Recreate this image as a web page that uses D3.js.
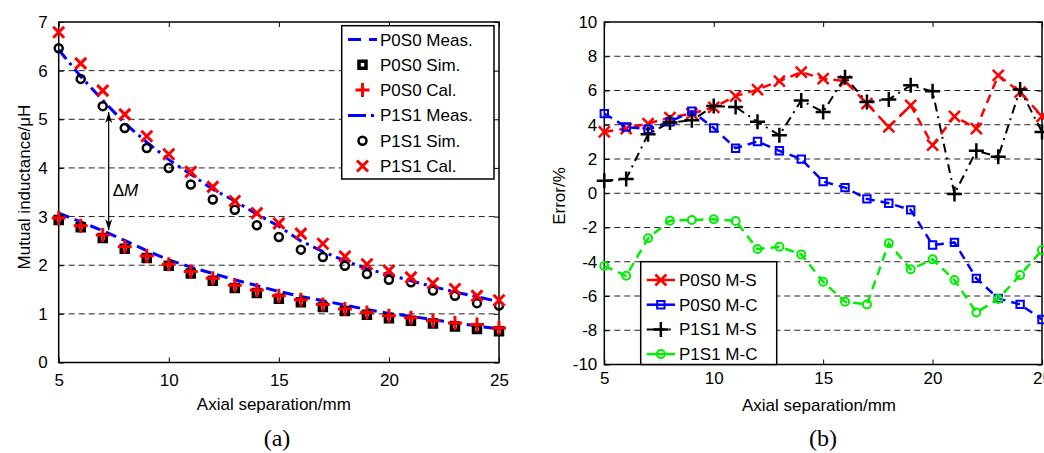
<!DOCTYPE html>
<html>
<head>
<meta charset="utf-8">
<script src="https://cdn.jsdelivr.net/npm/d3@7"></script>
<style>
  body { margin: 0; background: #fff; }
  text { font-family: Arial, "Liberation Sans", sans-serif; fill: #000; }
</style>
</head>
<body>
<svg id="chart" width="1044" height="453"></svg>
<script>
// axial separation, mm
const separation = [5, 6, 7, 8, 9, 10, 11, 12, 13, 14, 15, 16, 17, 18, 19, 20, 21, 22, 23, 24, 25];

// (a) mutual inductance, uH
const p0s0Meas = [3.07, 2.89, 2.71, 2.51, 2.30, 2.11, 1.96, 1.83, 1.70, 1.58, 1.46, 1.36, 1.27, 1.18, 1.09, 1.01, 0.95, 0.88, 0.82, 0.75, 0.69];
const p0s0Sim  = [2.93, 2.78, 2.56, 2.34, 2.15, 1.99, 1.83, 1.68, 1.53, 1.43, 1.31, 1.24, 1.14, 1.06, 0.98, 0.91, 0.86, 0.80, 0.74, 0.69, 0.64];
const p0s0Cal  = [2.97, 2.81, 2.62, 2.38, 2.19, 2.02, 1.87, 1.73, 1.59, 1.49, 1.37, 1.29, 1.19, 1.10, 1.03, 0.96, 0.92, 0.86, 0.81, 0.78, 0.71];
const p1s1Meas = [6.43, 5.88, 5.39, 4.92, 4.53, 4.17, 3.87, 3.56, 3.32, 3.05, 2.80, 2.50, 2.28, 2.09, 1.93, 1.80, 1.68, 1.56, 1.45, 1.35, 1.25];
const p1s1Sim  = [6.46, 5.83, 5.27, 4.82, 4.41, 4.00, 3.66, 3.35, 3.14, 2.82, 2.58, 2.32, 2.17, 1.99, 1.82, 1.70, 1.65, 1.48, 1.37, 1.22, 1.17];
const p1s1Cal  = [6.79, 6.15, 5.59, 5.10, 4.65, 4.28, 3.92, 3.61, 3.32, 3.07, 2.86, 2.65, 2.44, 2.18, 2.02, 1.89, 1.75, 1.63, 1.51, 1.37, 1.28];

// (b) error, %
const errP0S0MS = [3.58, 3.78, 4.07, 4.42, 4.65, 5.02, 5.67, 6.05, 6.55, 7.07, 6.69, 6.55, 5.23, 3.87, 5.13, 2.81, 4.49, 3.78, 6.88, 5.91, 4.49];
const errP0S0MC = [4.65, 3.87, 3.74, 4.17, 4.79, 3.81, 2.63, 3.02, 2.48, 1.99, 0.68, 0.33, -0.33, -0.58, -0.97, -3.02, -2.87, -4.97, -6.14, -6.49, -7.37];
const errP1S1MS = [0.73, 0.83, 3.45, 4.13, 4.26, 5.09, 5.04, 4.17, 3.39, 5.42, 4.75, 6.78, 5.33, 5.48, 6.30, 5.95, -0.04, 2.48, 2.13, 6.06, 3.58];
const errP1S1MC = [-4.25, -4.82, -2.63, -1.60, -1.56, -1.52, -1.62, -3.26, -3.12, -3.57, -5.17, -6.34, -6.49, -2.92, -4.44, -3.86, -5.07, -6.96, -6.18, -4.78, -3.32];

// tick labels
const xTicks = [5, 10, 15, 20, 25];
const yTicksA = [0, 1, 2, 3, 4, 5, 6, 7];
const yTicksB = [-10, -8, -6, -4, -2, 0, 2, 4, 6, 8, 10];

// delta M arrow (data units of panel a)
const deltaM = { x: 7.27, from: 2.72, to: 5.15, labelX: 7.45, labelY: 3.42 };

const RED = "#ff0000", BLUE = "#0000ff", GREEN = "#00ee00", BLACK = "#000";

function markerPath(type, s) {
    if (type === "plus") return `M${-s},0H${s}M0,${-s}V${s}`;
    if (type === "x") return `M${-s},${-s}L${s},${s}M${-s},${s}L${s},${-s}`;
    if (type === "square") return `M${-s},${-s}H${s}V${s}H${-s}Z`;
    if (type === "circle") return `M${s},0A${s},${s} 0 1,1 ${-s},0A${s},${s} 0 1,1 ${s},0Z`;
    return "";
}

function drawFrame(svg, area, scaleX, scaleY, yTicks, grid, opt) {
    const g = svg.append("g");
    const fmt = d => String(d);

    // dashed horizontal grid
    g.selectAll(".grid")
        .data(grid)
        .enter()
        .append("line")
        .attr("x1", area.x0).attr("x2", area.x1)
        .attr("y1", d => scaleY(d)).attr("y2", d => scaleY(d))
        .attr("stroke", "#222")
        .attr("stroke-width", 1)
        .attr("stroke-dasharray", "6,4");

    const bottom = g.append("g")
        .attr("transform", `translate(0, ${area.y1})`)
        .call(d3.axisBottom(scaleX).tickValues(xTicks).tickSizeInner(-5).tickSizeOuter(0).tickPadding(opt.padX).tickFormat(fmt));
    const top = g.append("g")
        .attr("transform", `translate(0, ${area.y0})`)
        .call(d3.axisTop(scaleX).tickValues(xTicks).tickSizeInner(-5).tickSizeOuter(0).tickFormat(""));
    const left = g.append("g")
        .attr("transform", `translate(${area.x0}, 0)`)
        .call(d3.axisLeft(scaleY).tickValues(yTicks).tickSizeInner(-5).tickSizeOuter(0).tickPadding(opt.padY).tickFormat(fmt));
    const right = g.append("g")
        .attr("transform", `translate(${area.x1}, 0)`)
        .call(d3.axisRight(scaleY).tickValues(yTicks).tickSizeInner(-5).tickSizeOuter(0).tickFormat(""));

    [bottom, top, left, right].forEach(a => {
        a.select(".domain").remove();
        a.selectAll("line").attr("stroke", "#000").attr("stroke-width", 1);
        a.selectAll("text").style("font-size", "17px").style("font-family", "Arial, 'Liberation Sans', sans-serif");
    });

    g.append("rect")
        .attr("x", area.x0).attr("y", area.y0)
        .attr("width", area.x1 - area.x0).attr("height", area.y1 - area.y0)
        .attr("fill", "none")
        .attr("stroke", "#000")
        .attr("stroke-width", 1.5);
}

function drawSeries(g, scaleX, scaleY, s) {
    const pts = d3.zip(separation, s.values);
    if (s.dash !== undefined) {
        const line = d3.line().x(d => scaleX(d[0])).y(d => scaleY(d[1]));
        g.append("path")
            .datum(pts)
            .attr("d", line)
            .attr("fill", "none")
            .attr("stroke", s.color)
            .attr("stroke-width", s.lineWidth)
            .attr("stroke-dasharray", s.dash);
    }
    if (s.marker) {
        g.selectAll(null)
            .data(pts)
            .enter()
            .append("path")
            .attr("transform", d => `translate(${scaleX(d[0])}, ${scaleY(d[1])})`)
            .attr("d", markerPath(s.marker, s.size))
            .attr("fill", "none")
            .attr("stroke", s.markerColor || s.color)
            .attr("stroke-width", s.markerWidth);
    }
}

function drawLegend(svg, box, items, opt) {
    const g = svg.append("g");
    g.append("rect")
        .attr("x", box.x).attr("y", box.y)
        .attr("width", box.w).attr("height", box.h)
        .attr("fill", "#fff")
        .attr("stroke", "#000")
        .attr("stroke-width", 1.5);

    items.forEach((s, i) => {
        const cy = opt.y0 + i * opt.step;
        if (s.dash !== undefined) {
            g.append("line")
                .attr("x1", opt.lineX0).attr("x2", opt.lineX1)
                .attr("y1", cy).attr("y2", cy)
                .attr("stroke", s.color)
                .attr("stroke-width", s.lineWidth)
                .attr("stroke-dasharray", s.legendDash);
        }
        if (s.marker) {
            g.append("path")
                .attr("transform", `translate(${(opt.lineX0 + opt.lineX1) / 2}, ${cy})`)
                .attr("d", markerPath(s.marker, s.size))
                .attr("fill", "none")
                .attr("stroke", s.markerColor || s.color)
                .attr("stroke-width", s.markerWidth);
        }
        g.append("text")
            .attr("x", opt.textX)
            .attr("y", cy + 6)
            .style("font-size", "17px")
            .text(s.name);
    });
}

function drawPanelA(svg) {
    const area = { x0: 58.7, x1: 499, y0: 22, y1: 362.5 };
    const scaleX = d3.scaleLinear().domain([5, 25]).range([area.x0, area.x1]);
    const scaleY = d3.scaleLinear().domain([0, 7]).range([area.y1, area.y0]);

    drawFrame(svg, area, scaleX, scaleY, yTicksA, [1, 2, 3, 4, 5, 6], { padX: 11, padY: 11 });

    const series = [
        { name: "P0S0 Meas.", values: p0s0Meas, color: BLUE, lineWidth: 3, dash: "11,6", legendDash: "13,8" },
        { name: "P0S0 Sim.", values: p0s0Sim, color: BLACK, marker: "square", size: 3.5, markerWidth: 3.5 },
        { name: "P0S0 Cal.", values: p0s0Cal, color: RED, marker: "plus", size: 7, markerWidth: 3 },
        { name: "P1S1 Meas.", values: p1s1Meas, color: BLUE, lineWidth: 3, dash: "12,5,3,5", legendDash: "18,5,3,5" },
        { name: "P1S1 Sim.", values: p1s1Sim, color: BLACK, marker: "circle", size: 4, markerWidth: 2.5 },
        { name: "P1S1 Cal.", values: p1s1Cal, color: RED, marker: "x", size: 5.5, markerWidth: 3 }
    ];

    const g = svg.append("g");
    series.forEach(s => drawSeries(g, scaleX, scaleY, s));

    // delta M
    svg.append("defs").append("marker")
        .attr("id", "arrow")
        .attr("viewBox", "-12 -5 14 10")
        .attr("refX", 0).attr("refY", 0)
        .attr("markerWidth", 14).attr("markerHeight", 10)
        .attr("markerUnits", "userSpaceOnUse")
        .attr("orient", "auto-start-reverse")
        .append("path")
        .attr("d", "M0,0L-11,-3.5L-8,0L-11,3.5Z")
        .attr("fill", "#000");

    svg.append("line")
        .attr("x1", scaleX(deltaM.x)).attr("x2", scaleX(deltaM.x))
        .attr("y1", scaleY(deltaM.from)).attr("y2", scaleY(deltaM.to))
        .attr("stroke", "#000")
        .attr("stroke-width", 1.2)
        .attr("marker-start", "url(#arrow)")
        .attr("marker-end", "url(#arrow)");

    const t = svg.append("text")
        .attr("x", scaleX(deltaM.labelX))
        .attr("y", scaleY(deltaM.labelY))
        .style("font-size", "17px");
    t.append("tspan").text("\u0394");
    t.append("tspan").style("font-style", "italic").text("M");

    drawLegend(svg, { x: 341.7, y: 25.7, w: 152.3, h: 153.3 }, series,
        { y0: 39.5, step: 25.3, lineX0: 348, lineX1: 377, textX: 380 });

    svg.append("text")
        .attr("x", (area.x0 + area.x1) / 2 - 5).attr("y", 410)
        .attr("text-anchor", "middle")
        .style("font-size", "17px")
        .text("Axial separation/mm");

    svg.append("text")
        .attr("transform", `translate(30, 187) rotate(-90)`)
        .attr("text-anchor", "middle")
        .style("font-size", "17px")
        .text("Mutual inductance/\u03bcH");

    svg.append("text")
        .attr("x", 277).attr("y", 446)
        .attr("text-anchor", "middle")
        .style("font-family", "'Times New Roman', 'Liberation Serif', serif")
        .style("font-size", "24px")
        .text("(a)");
}

function drawPanelB(svg) {
    const area = { x0: 604.3, x1: 1042, y0: 22, y1: 364.5 };
    const scaleX = d3.scaleLinear().domain([5, 25]).range([area.x0, area.x1]);
    const scaleY = d3.scaleLinear().domain([-10, 10]).range([area.y1, area.y0]);

    drawFrame(svg, area, scaleX, scaleY, yTicksB, [-8, -6, -4, -2, 0, 2, 4, 6, 8], { padX: 7, padY: 7 });

    const series = [
        { name: "P0S0 M-S", values: errP0S0MS, color: RED, lineWidth: 2.5, dash: "9,6", legendDash: "", marker: "x", size: 5.5, markerWidth: 2.5 },
        { name: "P0S0 M-C", values: errP0S0MC, color: BLUE, lineWidth: 2.5, dash: "9,6", legendDash: "", marker: "square", size: 3.7, markerWidth: 2 },
        { name: "P1S1 M-S", values: errP1S1MS, color: BLACK, lineWidth: 2, dash: "9,5,2,5", legendDash: "18,4,2,5", marker: "plus", size: 7.5, markerWidth: 2.5 },
        { name: "P1S1 M-C", values: errP1S1MC, color: GREEN, lineWidth: 2.5, dash: "9,6", legendDash: "", marker: "circle", size: 4, markerWidth: 2 }
    ];

    const g = svg.append("g");
    series.forEach(s => drawSeries(g, scaleX, scaleY, s));

    drawLegend(svg, { x: 640.7, y: 261.7, w: 136, h: area.y1 - 261.7 }, series,
        { y0: 280, step: 24.7, lineX0: 646.7, lineX1: 675, textX: 679 });

    svg.append("text")
        .attr("x", 819).attr("y", 411)
        .attr("text-anchor", "middle")
        .style("font-size", "17px")
        .text("Axial separation/mm");

    svg.append("text")
        .attr("transform", `translate(565, 196) rotate(-90)`)
        .attr("text-anchor", "middle")
        .style("font-size", "17px")
        .text("Error/%");

    svg.append("text")
        .attr("x", 823).attr("y", 446)
        .attr("text-anchor", "middle")
        .style("font-family", "'Times New Roman', 'Liberation Serif', serif")
        .style("font-size", "24px")
        .text("(b)");
}

const svg = d3.select("#chart");
svg.append("rect").attr("width", 1044).attr("height", 453).attr("fill", "#fff");
drawPanelA(svg);
drawPanelB(svg);
</script>
</body>
</html>
